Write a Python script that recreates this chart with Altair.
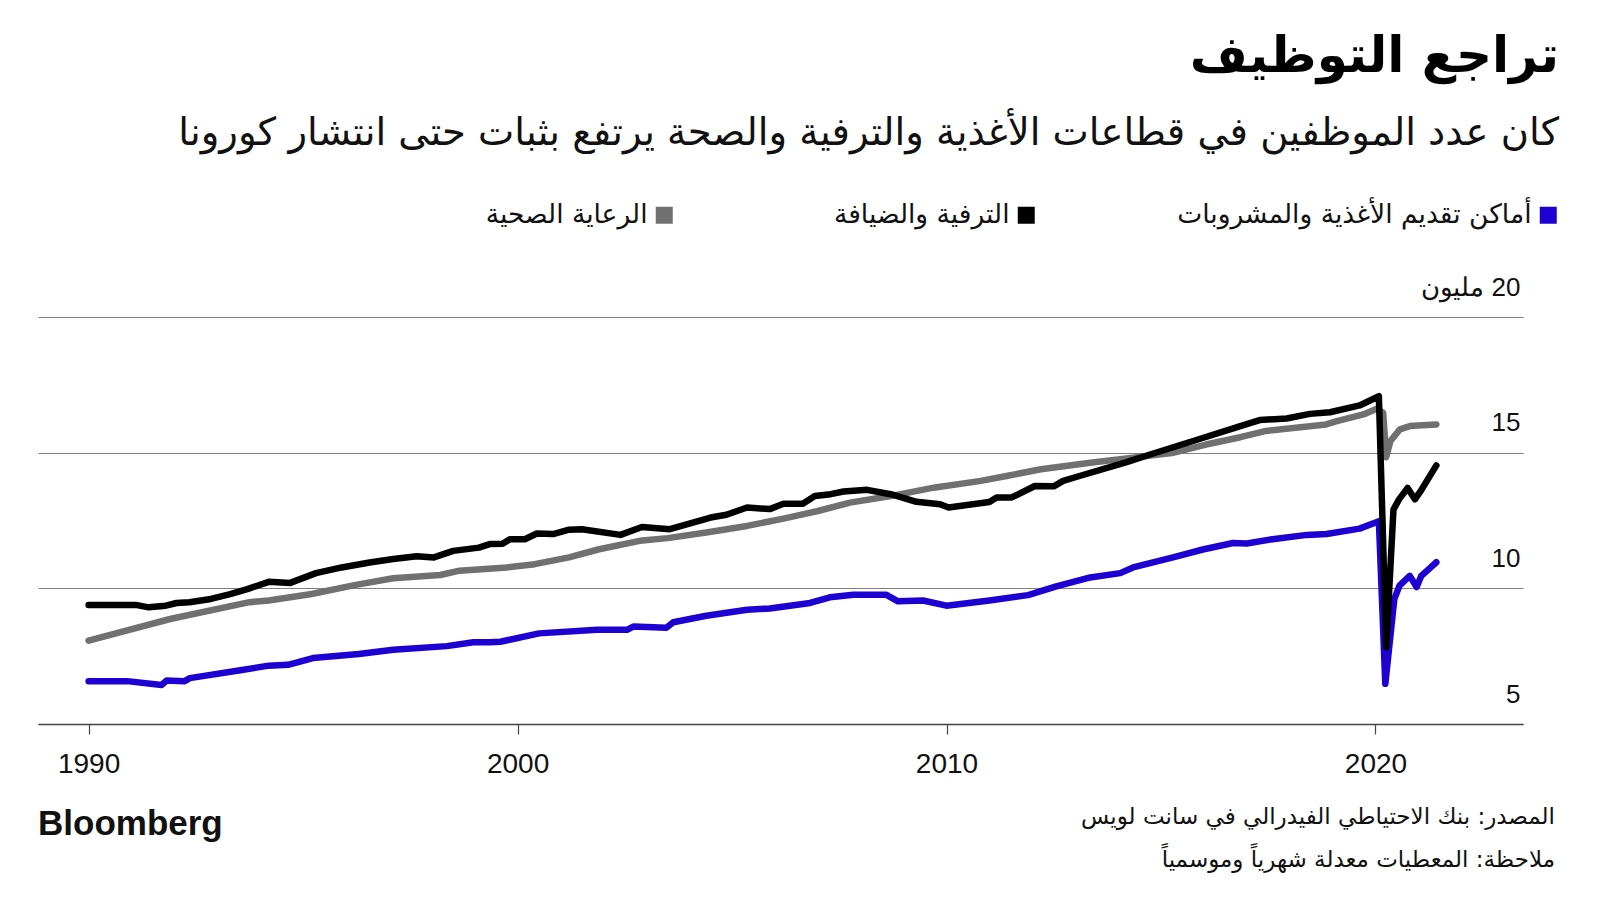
import altair as alt
import pandas as pd

# ---- data (millions of employees) ----
food_years = [1990.0, 1990.9, 1991.7, 1991.82, 1992.24, 1992.36, 1993.5, 1994.2, 1994.65, 1995.23,
              1996.3, 1997.1, 1998.35, 1998.97, 1999.35, 1999.6, 2000.5, 2001.85, 2002.55, 2002.7,
              2003.47, 2003.63, 2004.4, 2005.35, 2005.88, 2006.82, 2007.28, 2007.83, 2008.6, 2008.87,
              2009.45, 2010.0, 2011.0, 2011.9, 2012.56, 2013.35, 2014.05, 2014.35, 2015.28, 2016.0,
              2016.68, 2017.0, 2017.6, 2018.4, 2018.86, 2019.63, 2020.08, 2020.23, 2020.44, 2020.56,
              2020.8, 2020.96, 2021.07, 2021.42]
food_values = [6.58, 6.58, 6.44, 6.6, 6.58, 6.69, 6.97, 7.15, 7.18, 7.43,
               7.58, 7.74, 7.87, 8.01, 8.01, 8.03, 8.34, 8.47, 8.47, 8.59,
               8.55, 8.75, 8.99, 9.21, 9.26, 9.46, 9.67, 9.76, 9.76, 9.52,
               9.55, 9.36, 9.55, 9.75, 10.07, 10.4, 10.56, 10.77, 11.14, 11.44,
               11.67, 11.65, 11.81, 11.97, 12.0, 12.2, 12.47, 6.48, 9.6, 10.1,
               10.46, 10.05, 10.46, 10.96]

leisure_years = [1990.0, 1991.1, 1991.4, 1991.8, 1992.05, 1992.35, 1992.85, 1993.3, 1993.7, 1994.2,
                 1994.7, 1995.3, 1995.9, 1996.55, 1997.1, 1997.65, 1998.05, 1998.5, 1999.1, 1999.35,
                 1999.65, 1999.82, 2000.17, 2000.45, 2000.83, 2001.2, 2001.5, 2002.4, 2002.9, 2003.55,
                 2004.5, 2004.87, 2005.35, 2005.88, 2006.2, 2006.65, 2006.93, 2007.3, 2007.6, 2008.15,
                 2008.7, 2009.3, 2009.85, 2010.05, 2011.0, 2011.17, 2011.52, 2012.06, 2012.5, 2012.72,
                 2013.1, 2014.2, 2014.82, 2015.75, 2016.85, 2017.3, 2017.93, 2018.47, 2018.94, 2019.63,
                 2020.08, 2020.25, 2020.42, 2020.55, 2020.75, 2020.92, 2021.08, 2021.42]
leisure_values = [9.39, 9.39, 9.3, 9.36, 9.46, 9.49, 9.61, 9.79, 9.97, 10.24,
                  10.2, 10.56, 10.77, 10.95, 11.08, 11.18, 11.14, 11.38, 11.5, 11.63,
                  11.64, 11.81, 11.81, 12.02, 12.0, 12.16, 12.18, 11.97, 12.26, 12.18,
                  12.61, 12.71, 12.98, 12.92, 13.12, 13.12, 13.4, 13.47, 13.57, 13.63,
                  13.47, 13.19, 13.1, 12.98, 13.18, 13.35, 13.35, 13.77, 13.76, 13.96,
                  14.14, 14.65, 14.97, 15.43, 15.98, 16.2, 16.26, 16.43, 16.49, 16.74,
                  17.08, 7.83, 12.9, 13.28, 13.7, 13.28, 13.65, 14.53]

health_years = [1990.0, 1991.9, 1993.75, 1994.2, 1995.2, 1996.2, 1997.1, 1998.2, 1998.65, 1999.75,
                2000.4, 2001.2, 2001.9, 2002.85, 2003.5, 2004.4, 2005.35, 2006.2, 2007.0, 2007.75,
                2008.7, 2009.7, 2010.8, 2011.4, 2012.2, 2013.35, 2014.2, 2015.3, 2016.05, 2016.85,
                2017.45, 2018.85, 2019.1, 2019.72, 2020.03, 2020.18, 2020.25, 2020.35, 2020.57, 2020.8,
                2021.0, 2021.42]
health_values = [8.07, 8.87, 9.49, 9.55, 9.79, 10.12, 10.37, 10.49, 10.65, 10.77,
                 10.89, 11.14, 11.44, 11.75, 11.85, 12.06, 12.3, 12.57, 12.85, 13.16,
                 13.4, 13.71, 13.96, 14.14, 14.39, 14.63, 14.79, 15.0, 15.3, 15.57,
                 15.8, 16.04, 16.16, 16.41, 16.62, 16.47, 14.83, 15.43, 15.86, 15.98,
                 16.0, 16.04]

series_names = ["أماكن تقديم الأغذية والمشروبات", "الترفية والضيافة", "الرعاية الصحية"]
series_colors = ["#1e00d2", "#000000", "#707070"]

x_ticks = [1990, 2000, 2010, 2020]
y_ticks = [5, 10, 15, 20]
# "20 مليون" read right-to-left: the number sits at the right, aligned with 15/10/5
y_top_label = "\u0645\u0644\u064a\u0648\u0646\u200e 20"

title_text = "تراجع التوظيف"
subtitle_text = "كان عدد الموظفين في قطاعات الأغذية والترفية والصحة يرتفع بثبات حتى انتشار كورونا"
source_text = "المصدر: بنك الاحتياطي الفيدرالي في سانت لويس"
note_text = "ملاحظة: المعطيات معدلة شهرياً وموسمياً"
brand_text = "Bloomberg"

AR_FONT = "DejaVu Sans"
NUM_FONT = "Liberation Sans"

x_enc = alt.X(
    "year:Q",
    scale=alt.Scale(domain=[1988.82, 2023.44], nice=False, zero=False),
    axis=alt.Axis(values=x_ticks, format="d", grid=False, title=None,
                  domainColor="#444444", domainWidth=1.5, tickColor="#444444",
                  tickWidth=1.2, tickSize=10, labelFont=NUM_FONT, labelFontSize=28,
                  labelColor="#111111", labelPadding=16),
)
y_enc = alt.Y(
    "value:Q",
    scale=alt.Scale(domain=[5, 20], nice=False, zero=False),
    axis=alt.Axis(orient="right", values=y_ticks, grid=True, gridColor="#808080",
                  gridWidth=1.2, domain=False, ticks=False, title=None,
                  labelAlign="right", labelBaseline="alphabetic", labelPadding=-3,
                  labelOffset=-22, labelFont=NUM_FONT, labelFontSize=26,
                  labelColor="#111111",
                  labelExpr=f"datum.value == 20 ? '{y_top_label}' : datum.label"),
)

legend_x = [1497, 975, 613]


def series_layer(years, values, idx):
    df = pd.DataFrame({"year": years, "value": values, "series": series_names[idx]})
    return alt.Chart(df).mark_line(strokeWidth=6.5, strokeCap="round", strokeJoin="round").encode(
        x=x_enc,
        y=y_enc,
        color=alt.Color(
            "series:N",
            scale=alt.Scale(domain=[series_names[idx]], range=[series_colors[idx]]),
            legend=alt.Legend(orient="none", legendX=legend_x[idx], legendY=-115,
                              title=None, padding=0, symbolType="square", symbolSize=144,
                              symbolStrokeWidth=5, symbolFillColor=series_colors[idx],
                              labelAlign="right", labelBaseline="middle",
                              labelOffset={"expr": "-30"},
                              labelLimit=0, labelFont=AR_FONT, labelFontSize=26.5,
                              labelColor="#111111"),
        ),
    )


health = series_layer(health_years, health_values, 2)
food = series_layer(food_years, food_values, 0)
leisure = series_layer(leisure_years, leisure_values, 1)


def text_layer(txt, x, y, size, align, font, weight="normal"):
    return alt.Chart(pd.DataFrame({"t": [txt]})).mark_text(
        align=align, baseline="alphabetic", font=font, fontSize=size,
        fontWeight=weight, color="#111111"
    ).encode(text="t:N", x=alt.value(x), y=alt.value(y))


source = text_layer(source_text, 1517, 507, 23, "right", AR_FONT)
note = text_layer(note_text, 1517, 550, 23, "right", AR_FONT)
brand = text_layer(brand_text, 0, 518, 35, "left", NUM_FONT, "bold")

chart = alt.layer(health, food, leisure, source, note, brand).resolve_scale(
    color="independent"
).properties(
    width=1485,
    height=407,
    padding={"left": 30, "top": 309, "right": 60, "bottom": 165},
    autosize=alt.AutoSizeParams(type="none"),
    title=alt.TitleParams(
        text=title_text, subtitle=subtitle_text, anchor="end", align="right",
        frame="group", dx=36, offset=50,
        font=AR_FONT, fontSize=50, fontWeight="bold", color="#000000",
        subtitleFont=AR_FONT, subtitleFontSize=38.5, subtitleColor="#111111",
        subtitlePadding=33,
    ),
).configure(background="white", view=alt.ViewConfig(stroke=None))

chart.save("out.html", embed_options={"renderer": "svg", "actions": False})
